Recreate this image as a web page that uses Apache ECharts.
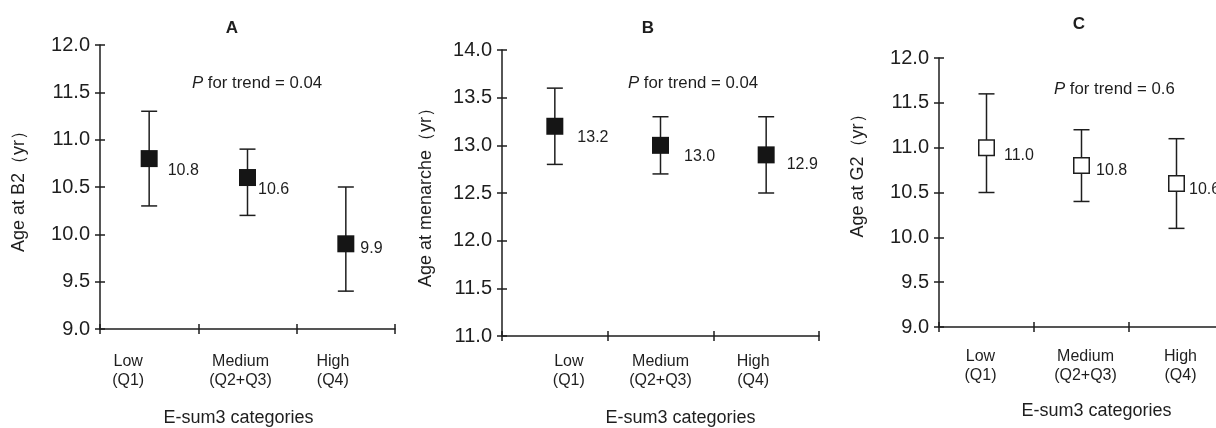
<!DOCTYPE html>
<html>
<head>
<meta charset="utf-8">
<script src="https://cdn.jsdelivr.net/npm/echarts@6/dist/echarts.min.js"></script>
<style>
html,body{margin:0;padding:0;background:#fff;}
#chart{width:1216px;height:428px;}
</style>
</head>
<body>
<div id="chart"></div>
<script>
// ---- data ----
const categories = ['Low\n(Q1)', 'Medium\n(Q2+Q3)', 'High\n(Q4)'];
const xAxisTitle = 'E-sum3 categories';

const panelTitles = ['A', 'B', 'C'];
const yAxisTitles = ['Age at B2（yr）', 'Age at menarche（yr）', 'Age at G2（yr）'];
const trendP = ['0.04', '0.04', '0.6'];

const meanA = [10.8, 10.6, 9.9];
const lowA  = [10.3, 10.2, 9.4];
const highA = [11.3, 10.9, 10.5];

const meanB = [13.2, 13.0, 12.9];
const lowB  = [12.8, 12.7, 12.5];
const highB = [13.6, 13.3, 13.3];

const meanC = [11.0, 10.8, 10.6];
const lowC  = [10.5, 10.4, 10.1];
const highC = [11.6, 11.2, 11.1];

const yRangeA = [9, 12];
const yRangeB = [11, 14];
const yRangeC = [9, 12];
const yStep = 0.5;

// ---- layout / style (not data) ----
const FONT = '"Liberation Sans", Arial, Helvetica, sans-serif';
const INK = '#1e1e1e';
const panels = [
  { mean: meanA, low: lowA, high: highA, range: yRangeA,
    grid: { left: 100, top: 45, width: 295, height: 284 },
    filled: true,
    title: [232, 18], pText: [192, 73],
    yNameGap: 72, yNameShift: 0, catMargin: 23,
    catShift: [-21, -7, -13], xNameShift: -9, xNameGap: 80,
    labelOff: [[10, 12], [2, 12], [6, 5]] },
  { mean: meanB, low: lowB, high: highB, range: yRangeB,
    grid: { left: 502, top: 50, width: 317, height: 286 },
    filled: true,
    title: [648, 18], pText: [628, 73],
    yNameGap: 67, yNameShift: 0, catMargin: 16.5,
    catShift: [14, 0, -13], xNameShift: 20, xNameGap: 73,
    labelOff: [[14, 11], [15, 11], [12, 10]] },
  { mean: meanC, low: lowC, high: highC, range: yRangeC,
    grid: { left: 939, top: 58, width: 285, height: 269 },
    filled: false,
    title: [1079, 14], pText: [1054, 79],
    yNameGap: 72, yNameShift: 21, catMargin: 20,
    catShift: [-6, 4, 4], xNameShift: 15, xNameGap: 75,
    labelOff: [[9, 8], [6, 5], [4, 6]] }
];

function shiftPad(s) { return s < 0 ? [0, -2 * s, 0, 0] : [0, 0, 0, 2 * s]; }

const grids = [], xAxes = [], yAxes = [], series = [], titles = [];
const tickStyle = { color: INK, width: 1.5 };

panels.forEach((p, i) => {
  grids.push(Object.assign({ containLabel: false, outerBoundsMode: 'none' }, p.grid));

  const catData = categories.map((c, k) => ({ value: c, textStyle: { padding: shiftPad(p.catShift[k]) } }));

  // main x axis (downward ticks, labels, name)
  xAxes.push({
    type: 'category', gridIndex: i, position: 'bottom', data: catData, boundaryGap: true,
    axisLine: { show: true, onZero: false, lineStyle: { color: INK, width: 1.5 } },
    axisTick: { show: true, inside: false, length: 5, lineStyle: tickStyle },
    axisLabel: { show: true, interval: 0, margin: p.catMargin, fontFamily: FONT, fontSize: 16,
                 lineHeight: 19, color: INK },
    name: xAxisTitle, nameLocation: 'middle', nameGap: p.xNameGap,
    nameTextStyle: { fontFamily: FONT, fontSize: 18, color: INK, padding: shiftPad(p.xNameShift) },
    splitLine: { show: false }
  });
  // twin x axis placed on top slot, moved down onto the baseline: its outward ticks point up
  xAxes.push({
    type: 'category', gridIndex: i, position: 'top', offset: -p.grid.height,
    data: categories, boundaryGap: true,
    axisLine: { show: true, onZero: false, lineStyle: { color: INK, width: 1.5, opacity: 0 } },
    axisTick: { show: true, inside: false, length: 5, lineStyle: tickStyle },
    axisLabel: { show: false }, splitLine: { show: false }
  });

  const yBase = {
    type: 'value', gridIndex: i, min: p.range[0], max: p.range[1], interval: yStep,
    splitLine: { show: false }
  };
  yAxes.push(Object.assign({}, yBase, {
    position: 'left',
    axisLine: { show: true, onZero: false, lineStyle: { color: INK, width: 1.5 } },
    axisTick: { show: true, inside: false, length: 5, lineStyle: tickStyle },
    axisLabel: { show: true, margin: 10, fontFamily: FONT, fontSize: 20, color: INK,
                 formatter: v => v.toFixed(1) },
    name: yAxisTitles[i], nameLocation: 'middle', nameGap: p.yNameGap, nameRotate: 90,
    nameTextStyle: { fontFamily: FONT, fontSize: 18, color: INK, padding: shiftPad(p.yNameShift) }
  }));
  // twin y axis placed on right slot, moved left onto the y axis line: its outward ticks point right
  yAxes.push(Object.assign({}, yBase, {
    position: 'right', offset: -p.grid.width,
    axisLine: { show: true, onZero: false, lineStyle: { color: INK, width: 1.5, opacity: 0 } },
    axisTick: { show: true, inside: false, length: 5, lineStyle: tickStyle },
    axisLabel: { show: false }
  }));

  // error bars
  series.push({
    type: 'custom', xAxisIndex: 2 * i, yAxisIndex: 2 * i, z: 2,
    data: categories.map((c, k) => [k, p.low[k], p.high[k]]),
    renderItem: function (params, api) {
      const x = api.value(0);
      const top = api.coord([x, api.value(2)]);
      const bot = api.coord([x, api.value(1)]);
      const hw = 8;
      const st = { stroke: INK, lineWidth: 1.5 };
      return {
        type: 'group', children: [
          { type: 'line', shape: { x1: top[0], y1: top[1], x2: bot[0], y2: bot[1] }, style: st },
          { type: 'line', shape: { x1: top[0] - hw, y1: top[1], x2: top[0] + hw, y2: top[1] }, style: st },
          { type: 'line', shape: { x1: bot[0] - hw, y1: bot[1], x2: bot[0] + hw, y2: bot[1] }, style: st }
        ]
      };
    }
  });

  // markers with value labels
  series.push({
    type: 'scatter', xAxisIndex: 2 * i, yAxisIndex: 2 * i, z: 5,
    symbol: 'rect', symbolSize: p.filled ? 17 : 15.5,
    itemStyle: p.filled ? { color: '#151515', borderColor: '#151515', borderWidth: 0, opacity: 1 }
                        : { color: '#ffffff', borderColor: INK, borderWidth: 1.5, opacity: 1 },
    data: p.mean.map((v, k) => ({
      value: [k, v],
      label: { offset: p.labelOff[k] }
    })),
    label: { show: true, position: 'right', distance: 0, fontFamily: FONT, fontSize: 16, color: INK,
             formatter: d => d.value[1].toFixed(1) },
    emphasis: { disabled: true },
    silent: true
  });

  titles.push({
    text: panelTitles[i], left: p.title[0], top: p.title[1], textAlign: 'center', padding: 0,
    textStyle: { fontFamily: FONT, fontSize: 17, fontWeight: 'bold', color: INK, lineHeight: 20 }
  });
  titles.push({
    text: '{i|P} for trend = ' + trendP[i], left: p.pText[0], top: p.pText[1], padding: 0,
    textStyle: { fontFamily: FONT, fontSize: 16.8, fontWeight: 'normal', color: INK, lineHeight: 20,
      rich: { i: { fontFamily: FONT, fontSize: 16.8, fontStyle: 'italic', fontWeight: 'normal',
                   color: INK, lineHeight: 20 } } }
  });
});

const chart = echarts.init(document.getElementById('chart'), null, { renderer: 'canvas' });
chart.setOption({
  animation: false,
  backgroundColor: '#ffffff',
  title: titles,
  grid: grids,
  xAxis: xAxes,
  yAxis: yAxes,
  series: series
});
</script>
</body>
</html>
